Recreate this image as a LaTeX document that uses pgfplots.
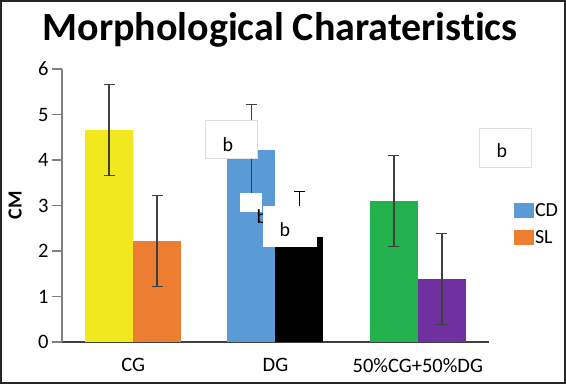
\documentclass[border=0pt]{standalone}
\usepackage{fontspec}
\setmainfont{Carlito}[Ligatures=NoCommon]
\usepackage{pgfplots}
\pgfplotsset{compat=1.18}
\definecolor{cyellow}{HTML}{F2E81E}
\definecolor{corange}{HTML}{ED7D31}
\definecolor{cblue}{HTML}{5B9BD5}
\definecolor{cgreen}{HTML}{22B14C}
\definecolor{cpurple}{HTML}{7030A0}
\colorlet{errcol}{black!75}
\pgfplotsset{
  myerr/.style={
    error bars/y dir=both, error bars/y explicit,
    error bars/error bar style={line width=1.4pt, draw=errcol},
    error bars/error mark options={rotate=90, mark size=5.5pt, line width=1.4pt, draw=errcol}
  },
  blackerr/.style={
    error bars/y dir=both, error bars/y explicit,
    error bars/error bar style={line width=1.4pt, draw=black},
    error bars/error mark options={rotate=90, mark size=5.5pt, line width=1.4pt, draw=black}
  }
}
\begin{document}
\begin{tikzpicture}[x=1pt,y=1pt]
\path[use as bounding box] (0,0) rectangle (566,384);
\begin{axis}[
  at={(62pt,42pt)}, anchor=south west,
  scale only axis, width=427pt, height=273pt,
  xmin=-0.5, xmax=2.5, ymin=0, ymax=6,
  axis x line*=bottom, axis y line*=left,
  x axis line style={draw=black!75, line width=1.2pt},
  y axis line style={draw=gray, line width=1.2pt},
  xtick={0,1,2}, xticklabels={CG,DG,50\%CG+50\%DG},
  ytick={0,1,2,3,4,5,6},
  x tick style={draw=none},
  y tick style={draw=gray, line width=1.2pt},
  tick align=outside, major tick length=10pt,
  ytick pos=left,
  /pgf/number format/assume math mode=true,
  tick label style={font=\fontsize{20.5}{24}\selectfont},
  xticklabel style={yshift=-3pt},
  ylabel={\bfseries CM},
  ylabel style={font=\fontsize{20}{24}\selectfont, at={(axis description cs:-0.11,0.5)}, anchor=center},
  ybar, bar width=48pt,
  legend image code/.code={\fill[#1] (0pt,-7.5pt) rectangle (20pt,7.5pt);},
  legend style={at={(1.05,0.52)}, anchor=north west, draw=none, fill=none,
    font=\fontsize{20}{24}\selectfont, row sep=9pt,
    nodes={inner sep=1.5pt}},
  legend cell align=left,
]
\addplot[fill=cyellow, draw=none, bar shift=-24pt, forget plot, myerr] coordinates {(0,4.66) +- (0,1.0)};
\addplot[fill=corange, draw=none, bar shift=24pt, forget plot, myerr] coordinates {(0,2.22) +- (0,1.0)};
\addplot[fill=cblue, draw=none, bar shift=-24pt, forget plot, myerr] coordinates {(1,4.22) +- (0,1.0)};
\addplot[fill=black, draw=none, bar shift=24pt, forget plot, blackerr] coordinates {(1,2.31) +- (0,1.0)};
\addplot[fill=cgreen, draw=none, bar shift=-24pt, forget plot, myerr] coordinates {(2,3.10) +- (0,1.0)};
\addplot[fill=cpurple, draw=none, bar shift=24pt, forget plot, myerr] coordinates {(2,1.38) +- (0,1.0)};
\addlegendimage{fill=cblue, draw=none}
\addlegendentry{CD}
\addlegendimage{fill=corange, draw=none}
\addlegendentry{SL}
\end{axis}
% annotation boxes
\begin{scope}[font=\fontsize{20}{24}\selectfont]
\filldraw[fill=white, draw=gray!25, line width=0.6pt] (205,226) rectangle (257,264);
\node at (228,239) {b};
\fill[white] (240,172) rectangle (262,191);
\node at (262,167) {b};
\filldraw[fill=white, draw=white] (263,138) rectangle (316,178);
\node at (285,154) {b};
\filldraw[fill=white, draw=gray!25, line width=0.6pt] (479,217) rectangle (531,256);
\node at (502,233) {b};
\end{scope}
\node[anchor=base, font=\fontsize{40}{48}\selectfont\bfseries] at (280,344) {Morphological Charateristics};
\draw[line width=2pt, black!85] (1,1) rectangle (565,383);
\end{tikzpicture}
\end{document}
